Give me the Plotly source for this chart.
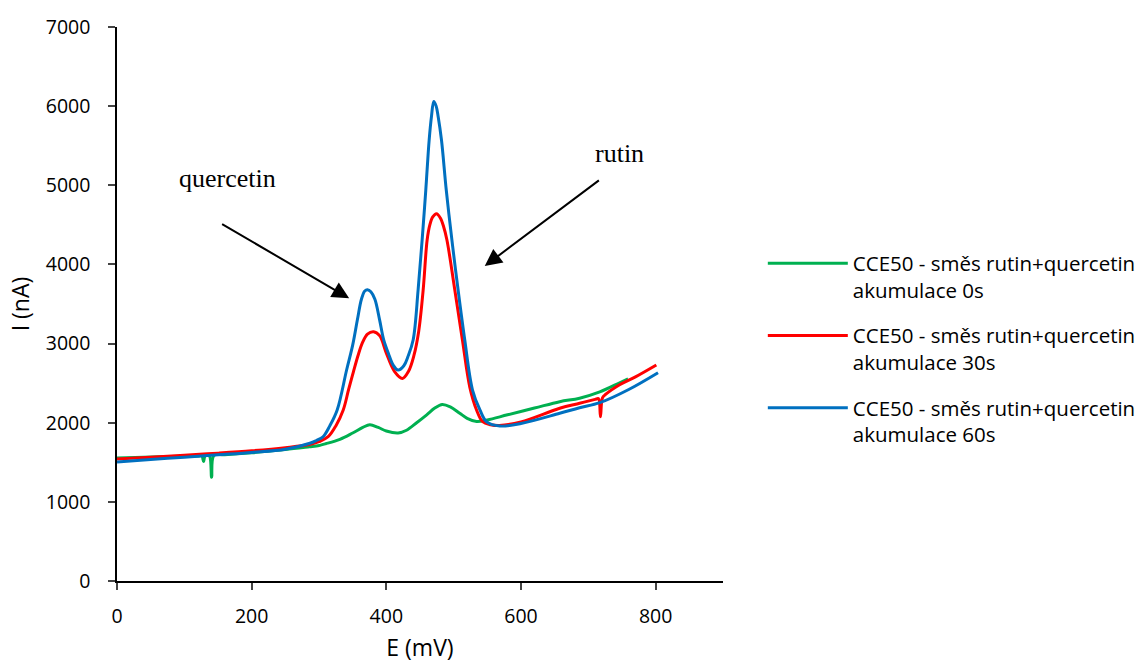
import plotly.graph_objects as go

# ---- data ----
E_green = [0, 40, 80, 120, 126, 128.5, 131, 137, 140.5, 144, 160, 200, 250, 286, 296, 310, 331,
           350, 365, 375.5, 388, 400, 417.5, 430, 445, 460, 472, 483, 495, 509, 520, 534, 550,
           580, 620, 657.5, 687, 717, 746.5, 759]
I_green = [1555, 1565, 1572, 1580, 1582, 1510, 1583, 1585, 1310, 1588, 1595, 1620, 1660, 1695, 1705,
           1735, 1790, 1870, 1940, 1975, 1940, 1895, 1870, 1905, 2000, 2100, 2185, 2230, 2200, 2120,
           2055, 2015, 2035, 2100, 2185, 2266, 2310, 2390, 2505, 2555]

E_red = [0, 50, 100, 150, 200, 250, 286, 300, 313.6, 325, 336, 344, 351, 358, 365, 372, 381, 390,
         400, 412, 424, 433, 441, 448, 454.7, 460.6, 464.6, 469, 474.5, 480, 485, 490, 501.7, 513,
         524, 534, 543, 555, 568, 600, 657.5, 687, 710, 715, 718, 721, 726, 746.5, 770, 801]
I_red = [1540, 1565, 1590, 1615, 1645, 1685, 1725, 1760, 1823, 1960, 2161, 2420, 2640, 2850, 3020,
         3120, 3150, 3100, 2880, 2650, 2560, 2650, 2850, 3150, 3677, 4309, 4500, 4600, 4640, 4590,
         4480, 4309, 3677, 3045, 2447, 2161, 2013, 1975, 1965, 2010, 2182, 2245, 2295, 2305, 2076,
         2315, 2360, 2480, 2580, 2730]

E_blue = [0, 50, 100, 150, 200, 250, 286.5, 296, 306, 316, 327, 341, 350, 357, 363, 368, 372, 377,
          383, 390, 396, 403, 410, 417.5, 426, 432, 439.8, 447.2, 453.2, 458.6, 463.6, 467, 470.5,
          474, 477, 481.9, 489, 498.2, 506.6, 516.5, 528, 539, 549, 568.5, 600, 657.5, 687, 717,
          760, 803.5]
I_blue = [1505, 1535, 1565, 1595, 1625, 1665, 1740, 1775, 1823, 1960, 2161, 2666, 2980, 3300, 3560,
          3665, 3680, 3655, 3560, 3300, 3050, 2877, 2730, 2665, 2720, 2834, 3045, 3677, 4309, 4940,
          5572, 5867, 6060, 6000, 5867, 5572, 4940, 4250, 3677, 3045, 2413, 2161, 2010, 1958, 1990,
          2119, 2190, 2253, 2420, 2632]

series_names = [
    "CCE50 - směs rutin+quercetin<br>akumulace 0s",
    "CCE50 - směs rutin+quercetin<br>akumulace 30s",
    "CCE50 - směs rutin+quercetin<br>akumulace 60s",
]
series_colors = ["#00B050", "#FF0000", "#0070C0"]

x_ticks = [0, 200, 400, 600, 800]
y_ticks = [0, 1000, 2000, 3000, 4000, 5000, 6000, 7000]

FONT = "Open Sans"
SERIF = "Liberation Serif"

fig = go.Figure()
for (ex, iy), name, col in zip([(E_green, I_green), (E_red, I_red), (E_blue, I_blue)],
                               series_names, series_colors):
    fig.add_trace(go.Scatter(x=ex, y=iy, mode="lines", name=name, legendgroup=name,
                             line=dict(color=col, width=3, shape="spline", smoothing=1.0)))

# annotations (labels + arrows)
fig.add_annotation(x=164, y=5092, text="quercetin", showarrow=False,
                   font=dict(family=SERIF, size=26, color="black"))
fig.add_annotation(x=746.6, y=5408, text="rutin", showarrow=False,
                   font=dict(family=SERIF, size=26, color="black"))
fig.add_annotation(x=344.8, y=3572, ax=153.9, ay=4520, axref="x", ayref="y", xref="x", yref="y",
                   text="", showarrow=True, arrowhead=2, arrowsize=1.7, arrowwidth=2, arrowcolor="black")
fig.add_annotation(x=546.2, y=3980, ax=717.9, ay=5076, axref="x", ayref="y", xref="x", yref="y",
                   text="", showarrow=True, arrowhead=2, arrowsize=1.7, arrowwidth=2, arrowcolor="black")

fig.update_layout(
    width=1144, height=663,
    margin=dict(l=117, r=421, t=27, b=82, autoexpand=False),
    paper_bgcolor="white", plot_bgcolor="white",
    font=dict(family=FONT, size=19.5, color="black"),
    showlegend=True,
    legend=dict(xref="container", yref="container", x=0.6668, y=0.633,
                xanchor="left", yanchor="top", valign="top",
                font=dict(family=FONT, size=20.5, color="black"),
                tracegroupgap=16, itemwidth=80, bgcolor="rgba(0,0,0,0)"),
    xaxis=dict(range=[0, 900], tickvals=x_ticks, ticks="outside", ticklen=7, tickwidth=1.5,
               showline=True, linecolor="black", linewidth=1.5, showgrid=False, zeroline=False,
               ticklabelstandoff=10, automargin=False,
               title=dict(text="E (mV)", standoff=13, font=dict(size=23)), tickfont=dict(size=19.5)),
    yaxis=dict(range=[0, 7000], tickvals=y_ticks, ticks="outside", ticklen=7, tickwidth=1.5,
               showline=True, linecolor="black", linewidth=1.5, showgrid=False, zeroline=False,
               ticklabelstandoff=14, automargin=False,
               title=dict(text="I (nA)", standoff=10, font=dict(size=23)), tickfont=dict(size=19.5)),
)

fig.write_html("out.html")
